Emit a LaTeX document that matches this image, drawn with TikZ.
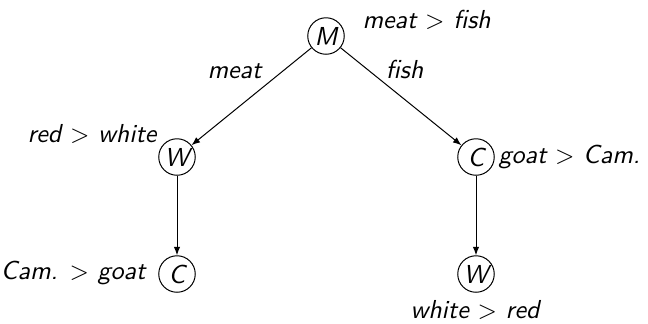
\documentclass[tikz,border=0pt]{standalone}
\usetikzlibrary{arrows.meta}
\begin{document}
\begin{tikzpicture}[x=0.4pt,y=-0.4pt,
  every node/.style={font=\fontsize{10.4pt}{12.5pt}\selectfont\sffamily\itshape},
  choice/.style={draw,circle,inner sep=0pt,minimum size=14.6pt},
  pref/.style={inner sep=0pt},
  edge/.style={-{Latex[length=3.4pt,width=2.6pt]},line width=0.4pt}]
\useasboundingbox (0,0) rectangle (648,323);
% decision nodes
\node[choice] (M)  at (326,36)  {M};
\node[choice] (W1) at (177,157) {W};
\node[choice] (C1) at (476,157) {C};
\node[choice] (C2) at (177,274) {C};
\node[choice] (W2) at (476,274) {W};
% preferences at each node
\node[pref,anchor=west] (pM)  at (362,20)  {meat $>$ fish};
\node[pref,anchor=east] (pW1) at (157,134) {red $>$ white};
\node[pref,anchor=west] (pC1) at (498,157) {goat $>$ Cam.};
\node[pref,anchor=east] (pC2) at (146,273) {Cam. $>$ goat};
\node[pref] (pW2) at (475,310) {white $>$ red};
% branches
\draw[edge] (M) -- node[pref,pos=0.37,above left=2pt] (lm) {meat} (W1);
\draw[edge] (M) -- node[pref,pos=0.35,above right=1pt] (lf) {fish} (C1);
\draw[edge] (W1) -- (C2);
\draw[edge] (C1) -- (W2);
\end{tikzpicture}
\end{document}
